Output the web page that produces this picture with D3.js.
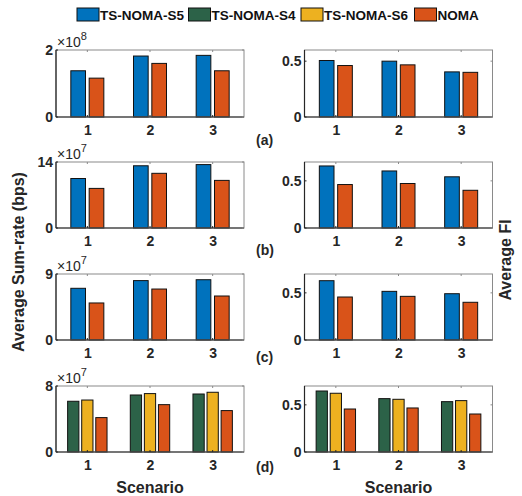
<!DOCTYPE html>
<html><head><meta charset="utf-8">
<script src="https://cdn.jsdelivr.net/npm/d3@7"></script>
<style>body{margin:0;background:#fff;}svg{display:block;font-family:"Liberation Sans",Arial,Helvetica,sans-serif;}</style>
</head><body><div id="chart"></div>
<script>
// ---------- data ----------
const scenarios = [1, 2, 3];
const seriesNames = ["TS-NOMA-S5", "TS-NOMA-S4", "TS-NOMA-S6", "NOMA"];
const seriesColors = ["#0072BD", "#2C6248", "#EDB120", "#D95319"];

// Average sum-rate (bps)
const rateA_S5 = [1.38e8, 1.82e8, 1.84e8];
const rateA_NOMA = [1.16e8, 1.60e8, 1.38e8];
const rateB_S5 = [10.5e7, 13.2e7, 13.45e7];
const rateB_NOMA = [8.4e7, 11.6e7, 10.1e7];
const rateC_S5 = [7.05e7, 8.1e7, 8.22e7];
const rateC_NOMA = [5.05e7, 6.95e7, 6.0e7];
const rateD_S4 = [6.15e7, 6.91e7, 7.03e7];
const rateD_S6 = [6.3e7, 7.08e7, 7.24e7];
const rateD_NOMA = [4.17e7, 5.74e7, 5.02e7];

// Average FI
const fiA_S5 = [0.506, 0.50, 0.404];
const fiA_NOMA = [0.461, 0.467, 0.40];
const fiB_S5 = [0.658, 0.605, 0.543];
const fiB_NOMA = [0.461, 0.472, 0.40];
const fiC_S5 = [0.629, 0.516, 0.491];
const fiC_NOMA = [0.456, 0.463, 0.40];
const fiD_S4 = [0.647, 0.566, 0.534];
const fiD_S6 = [0.623, 0.559, 0.545];
const fiD_NOMA = [0.456, 0.467, 0.403];

// axis limits / tick labels
const rateMax = [2e8, 14e7, 9e7, 8e7];
const rateExp = [8, 7, 7, 7];
const rateTickLabels = [["0", "2"], ["0", "14"], ["0", "9"], ["0", "8"]];
const fiMax = [0.6, 0.7, 0.7, 0.7];
const fiTicks = [0, 0.5];
const fiTickLabels = ["0", "0.5"];
const panelTags = ["(a)", "(b)", "(c)", "(d)"];

// ---------- layout ----------
const W = 522, H = 496;
const svg = d3.select("#chart").append("svg").attr("width", W).attr("height", H);
const panelY = [[50, 117], [162, 228], [274, 340], [386, 452]];
const leftX = [56, 244], rightX = [304.5, 492.5];
const tagBaseline = [145, 255, 362, 472];
const axisCol = "#262626";

const panels = [
  {rate: [[0, rateA_S5], [3, rateA_NOMA]], fi: [[0, fiA_S5], [3, fiA_NOMA]]},
  {rate: [[0, rateB_S5], [3, rateB_NOMA]], fi: [[0, fiB_S5], [3, fiB_NOMA]]},
  {rate: [[0, rateC_S5], [3, rateC_NOMA]], fi: [[0, fiC_S5], [3, fiC_NOMA]]},
  {rate: [[1, rateD_S4], [2, rateD_S6], [3, rateD_NOMA]], fi: [[1, fiD_S4], [2, fiD_S6], [3, fiD_NOMA]]}
];

function drawPanel(xr, yr, series, ymax, ticks, tickLabels) {
  const x = d3.scaleLinear().domain([0.5, 3.5]).range(xr);
  const y = d3.scaleLinear().domain([0, ymax]).range([yr[1], yr[0]]);
  const n = series.length;
  const half = n === 2 ? 16.5 : 19.7;
  const inner = d3.scaleBand().domain(d3.range(n)).range([-half, half]).paddingInner(0.2);
  const g = svg.append("g");
  series.forEach(([ci, vals], si) => {
    g.selectAll(null).data(vals).join("rect")
      .attr("x", (d, i) => x(scenarios[i]) + inner(si))
      .attr("width", inner.bandwidth())
      .attr("y", d => y(d))
      .attr("height", d => y(0) - y(d))
      .attr("fill", seriesColors[ci])
      .attr("stroke", "#111").attr("stroke-width", 1);
  });
  g.append("rect").attr("x", xr[0]).attr("y", yr[0]).attr("width", xr[1] - xr[0]).attr("height", yr[1] - yr[0])
    .attr("fill", "none").attr("stroke", "#8a8a8a").attr("stroke-width", 1);
  g.append("line").attr("x1", xr[0]).attr("x2", xr[1]).attr("y1", yr[1]).attr("y2", yr[1]).attr("stroke", axisCol).attr("stroke-width", 1.2);
  g.append("line").attr("x1", xr[0]).attr("x2", xr[0]).attr("y1", yr[0]).attr("y2", yr[1]).attr("stroke", axisCol).attr("stroke-width", 1.2);
  const xAxis = d3.axisBottom(x).tickValues(scenarios).tickSize(0).tickPadding(8).tickFormat(d3.format("d"));
  const ax = g.append("g").attr("transform", `translate(0,${yr[1]})`).call(xAxis);
  ax.select(".domain").remove();
  ax.selectAll("text").attr("font-size", 14).attr("font-weight", "bold").attr("fill", axisCol);
  scenarios.forEach(s => {
    g.append("line").attr("x1", x(s)).attr("x2", x(s)).attr("y1", yr[1]).attr("y2", yr[1] - 2).attr("stroke", axisCol);
    g.append("line").attr("x1", x(s)).attr("x2", x(s)).attr("y1", yr[0]).attr("y2", yr[0] + 2).attr("stroke", "#8a8a8a");
  });
  const yAxis = d3.axisLeft(y).tickValues(ticks).tickSize(0).tickPadding(3).tickFormat((d, i) => tickLabels[i]);
  const ay = g.append("g").attr("transform", `translate(${xr[0]},0)`).call(yAxis);
  ay.select(".domain").remove();
  ay.selectAll("text").attr("font-size", 14).attr("font-weight", "bold").attr("fill", axisCol);
  ticks.forEach(t => {
    g.append("line").attr("x1", xr[0]).attr("x2", xr[0] + 2).attr("y1", y(t)).attr("y2", y(t)).attr("stroke", axisCol);
    g.append("line").attr("x1", xr[1]).attr("x2", xr[1] - 2).attr("y1", y(t)).attr("y2", y(t)).attr("stroke", "#8a8a8a");
  });
  return g;
}

panels.forEach((p, k) => {
  const yr = panelY[k];
  const g1 = drawPanel(leftX, yr, p.rate, rateMax[k], [0, rateMax[k]], rateTickLabels[k]);
  const t = g1.append("text").attr("x", leftX[0] + 1).attr("y", yr[0] - 3)
    .attr("font-size", 14).attr("fill", axisCol);
  t.append("tspan").text("\u00d710");
  t.append("tspan").attr("dy", -7).attr("font-size", 11).text(rateExp[k]);
  drawPanel(rightX, yr, p.fi, fiMax[k], fiTicks, fiTickLabels);
  svg.append("text").attr("x", 256).attr("y", tagBaseline[k]).attr("font-size", 14).attr("font-weight", "bold")
    .attr("fill", axisCol).text(panelTags[k]);
});

svg.append("text").attr("transform", "translate(24,262) rotate(-90)").attr("text-anchor", "middle")
  .attr("font-size", 16).attr("font-weight", "bold").attr("fill", axisCol).text("Average Sum-rate (bps)");
svg.append("text").attr("transform", "translate(511,260) rotate(-90)").attr("text-anchor", "middle")
  .attr("font-size", 16).attr("font-weight", "bold").attr("fill", axisCol).text("Average FI");
[leftX, rightX].forEach(xr => {
  svg.append("text").attr("x", (xr[0] + xr[1]) / 2).attr("y", 493).attr("text-anchor", "middle")
    .attr("font-size", 16).attr("font-weight", "bold").attr("fill", axisCol).text("Scenario");
});

const legX = [77, 188.5, 301, 414.5];
const leg = svg.append("g");
seriesNames.forEach((name, i) => {
  leg.append("rect").attr("x", legX[i]).attr("y", 8).attr("width", 22).attr("height", 13)
    .attr("fill", seriesColors[i]).attr("stroke", "#111").attr("stroke-width", 1);
  leg.append("text").attr("x", legX[i] + 23).attr("y", 19.5).attr("font-size", 13.5).attr("font-weight", "bold")
    .attr("fill", "#111").text(name);
});
</script></body></html>
